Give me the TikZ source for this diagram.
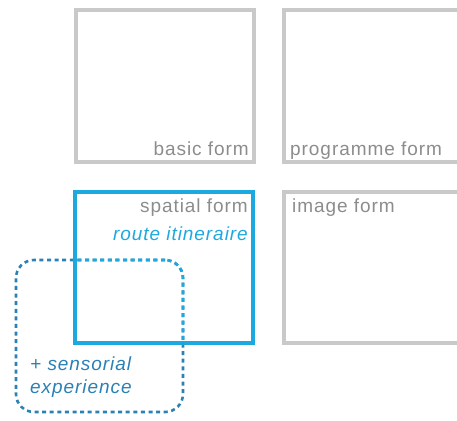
\documentclass[tikz,border=0pt]{standalone}
\usepackage{fontspec}
\setmainfont{Liberation Sans}
\usetikzlibrary{positioning}
\definecolor{frame}{HTML}{C9C9C9}
\definecolor{muted}{HTML}{8C8C8C}
\definecolor{sky}{HTML}{1EA8E0}
\definecolor{deep}{HTML}{2B80B4}
\tikzset{
  formbox/.style = {rectangle, draw=frame, line width=4pt, minimum width=178pt,
                    minimum height=151pt, inner sep=0pt},
  skybox/.style  = {formbox, draw=sky},
  lbl/.style     = {font=\fontsize{19}{22}\selectfont\addfontfeature{LetterSpace=5},
                    text=muted, inner sep=0pt},
  ital/.style    = {lbl, font=\fontsize{19}{23}\selectfont\itshape\addfontfeature{LetterSpace=5}},
  sens/.style    = {rectangle, rounded corners=18pt, line width=2.6pt,
                    dash pattern=on 4pt off 3.6pt, minimum width=167pt,
                    minimum height=152pt, inner sep=0pt},
}
\begin{document}
\begin{tikzpicture}[x=1pt, y=-1pt, node distance=26pt]
\useasboundingbox (0,0) rectangle (457,420);
\node[formbox] (basic) at (165,86) {};
\node[formbox, right=of basic] (prog) {};
\node[skybox, below=of basic, xshift=-1pt] (spatial) {};
\node[formbox, below=of prog] (image) {};
% labels
\node[lbl, anchor=base east] (basiclbl) at ([xshift=-7pt]basic.south east |- 0,155) {basic form};
\node[lbl, anchor=base west] (proglbl) at ([xshift=8pt]prog.south west |- 0,155) {programme form};
\node[lbl, anchor=base east] (spatiallbl) at ([xshift=-7pt]spatial.north east |- 0,212) {spatial form};
\node[ital, text=sky, anchor=base east] (routelbl) at ([xshift=-7pt]spatial.north east |- 0,240) {route itineraire};
\node[lbl, anchor=base west] (imagelbl) at ([xshift=10pt]image.north west |- 0,212) {image form};
% sensorial experience
\node[sens, draw=deep] (sensorial) at (99.5,336) {};
\begin{scope}
  \clip (spatial.north west) rectangle (spatial.south east);
  \node[sens, draw=sky] at (sensorial) {};
\end{scope}
\node[ital, text=deep, align=left, anchor=base west] (senslbl) at (30,393)
  {+ sensorial\\experience};
\end{tikzpicture}
\end{document}
